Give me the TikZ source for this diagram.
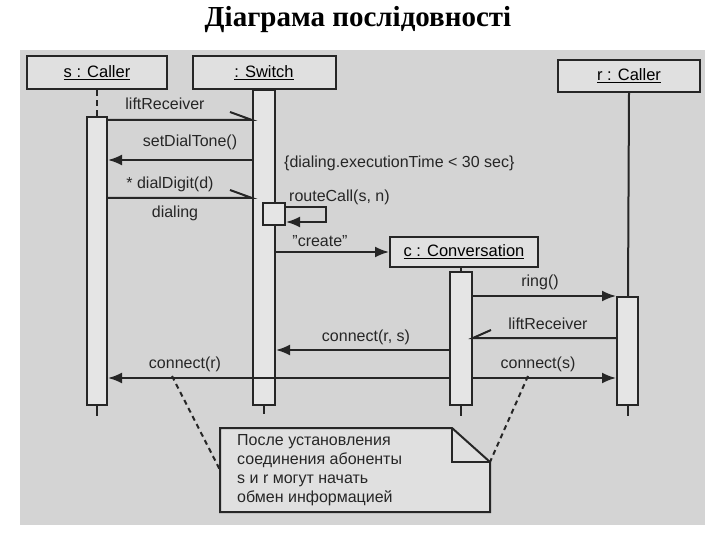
\documentclass[tikz,border=0pt]{standalone}
\usepackage{fontspec}
\setmainfont{Liberation Sans}
\newfontfamily\titlefont{Liberation Serif}
\usetikzlibrary{arrows.meta}
\begin{document}
\begin{tikzpicture}[x=1pt,y=-1pt,
  ln/.style={line width=2pt,black!85},
  obj/.style={draw=black!85,line width=2pt,fill=black!12,inner sep=0pt,font=\fontsize{16.5}{18}\selectfont},
  act/.style={draw=black!85,line width=2pt,fill=black!10,inner sep=0pt},
  lbl/.style={font=\fontsize{16}{18}\selectfont,text=black!85,inner sep=1pt},
  msg/.style={ln,-{Latex[length=14pt,width=11pt]}},
  asy/.style={ln}]
\useasboundingbox (0,0) rectangle (720,540);
\fill[white] (0,0) rectangle (720,540);
\fill[black!17] (20,50) rectangle (705,525);
\node[font=\titlefont\bfseries\fontsize{29}{32}\selectfont] (title) at (358,20) {Діаграма послідовності};
% objects
\node[obj,minimum width=140pt,minimum height=33pt] (s) at (97,73) {\underline{s : Caller}};
\node[obj,minimum width=143pt,minimum height=33pt] (sw) at (264,73) {\underline{: Switch}};
\node[obj,minimum width=142pt,minimum height=32pt] (r) at (629,76) {\underline{r : Caller}};
\node[obj,minimum width=148pt,minimum height=30pt] (c) at (464,252) {\underline{c : Conversation}};
% activations
\node[act,minimum width=20pt,minimum height=288pt] (sa) at (97,261) {};
\node[act,minimum width=22pt,minimum height=315pt] (swa) at (264,247.5) {};
\node[act,minimum width=22pt,minimum height=133pt] (ca) at (461,338.5) {};
\node[act,minimum width=21pt,minimum height=108pt] (ra) at (627.5,351) {};
\node[act,minimum width=22pt,minimum height=22pt] (rc) at (274,214) {};
% lifelines
\draw[ln,dash pattern=on 6pt off 4pt] (s.south) -- (sa.north);
\draw[ln] (sa.south) -- ++(0,10);
\draw[ln] (swa.south) -- ++(0,8);
\draw[ln] (ca.south) -- ++(0,10);
\draw[ln] (ra.south) -- ++(0,10);
\draw[ln] (r.south) -- (628,297);
\draw[ln] (c.south -| ca.north) -- (ca.north);
% messages
\coordinate (m1a) at (sa.east |- 0,120); \coordinate (m1b) at (swa.west |- 0,120);
\draw[asy] (m1a) -- (m1b) -- ++(-22,-8);
\node[lbl] (l1) at (165,104) {liftReceiver};
\draw[msg] (swa.west |- 0,160) -- (sa.east |- 0,160);
\node[lbl] (l2) at (190,142) {setDialTone()};
\node[lbl,anchor=west] (l3) at (283,163) {\{dialing.executionTime < 30 sec\}};
\coordinate (m3a) at (sa.east |- 0,198); \coordinate (m3b) at (swa.west |- 0,198);
\draw[asy] (m3a) -- (m3b) -- ++(-22,-8);
\node[lbl] (l4) at (170,184) {* dialDigit(d)};
\node[lbl] (l5) at (175,213) {dialing};
\draw[msg] (rc.east |- 0,207) -- (326,207) -- (326,222) -- (rc.east |- 0,222);
\node[lbl,anchor=west] (l6) at (288,197) {routeCall(s, n)};
\draw[msg] (swa.east |- c.west) -- (c.west);
\node[lbl] (l7) at (320,241) {"create"};
\draw[msg] (ca.east |- 0,296) -- (ra.west |- 0,296);
\node[lbl] (l8) at (540,282) {ring()};
\draw[asy] (ra.west |- 0,338) -- (ca.east |- 0,338) -- ++(18,-8);
\node[lbl] (l9) at (548,324) {liftReceiver};
\draw[msg] (ca.west |- 0,350) -- (swa.east |- 0,350);
\node[lbl] (l10) at (366,337) {connect(r, s)};
\draw[msg] (ca.west |- 0,378) -- (sa.east |- 0,378);
\node[lbl] (l11) at (185,364) {connect(r)};
\draw[msg] (ca.east |- 0,378) -- (ra.west |- 0,378);
\node[lbl] (l12) at (538,364) {connect(s)};
% note
\draw[line width=2pt,black!85,fill=black!12] (220,428) -- (452,428) -- (490,462) -- (490,512) -- (220,512) -- cycle;
\draw[line width=2pt,black!85] (452,428) -- (452,462) -- (490,462);
\node[lbl,anchor=north west,align=left,font=\fontsize{16}{19}\selectfont] (note) at (236,433) {После установления\\соединения абоненты\\s и r могут начать\\обмен информацией};
\coordinate (n1) at (220,470); \coordinate (n2) at (490,462);
\coordinate (d1) at (172,376); \coordinate (d2) at (528,376);
\draw[ln,dash pattern=on 5pt off 4pt] (d1) -- (n1);
\draw[ln,dash pattern=on 5pt off 4pt] (d2) -- (n2);
\end{tikzpicture}
\end{document}
